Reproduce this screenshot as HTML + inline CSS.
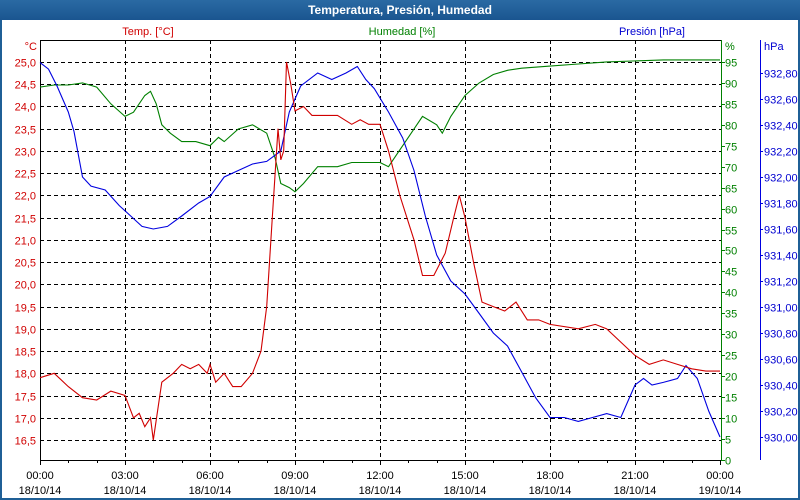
<!DOCTYPE html>
<html><head><meta charset="utf-8"><style>
body{margin:0;width:800px;height:500px;overflow:hidden;background:#fff;font-family:"Liberation Sans",sans-serif}
#frame{position:absolute;left:0;top:0;width:796px;height:496px;border:2px solid #1f5f96;background:#fff}
#title{position:absolute;left:0;top:0;width:800px;height:20px;background:linear-gradient(#2a6aa3,#1a5590);color:#fff;font-weight:bold;font-size:12px;text-align:center;line-height:20px}
</style></head><body>
<div id="frame"></div>
<div id="title">Temperatura, Presión, Humedad</div>
<svg id="chart" width="800" height="500" style="position:absolute;left:0;top:0"></svg>
<script>
const tempT=[0,0.5,1,1.5,2,2.5,3,3.3,3.5,3.7,3.9,4.0,4.3,4.7,5,5.3,5.6,5.9,6.0,6.2,6.5,6.8,7.1,7.5,7.8,8.0,8.2,8.4,8.5,8.6,8.7,8.85,9.0,9.3,9.6,10,10.5,11,11.3,11.6,12,12.3,12.7,13.2,13.5,13.9,14.3,14.6,14.8,15.0,15.3,15.6,16,16.4,16.8,17.2,17.6,18,19,19.6,20,21,21.5,22,22.5,23,23.5,24];
const tempV=[17.9,18.0,17.7,17.45,17.4,17.6,17.5,17.0,17.1,16.8,17.0,16.5,17.8,18.0,18.2,18.1,18.2,18.0,18.2,17.8,18.0,17.7,17.7,18.0,18.5,19.5,21.5,23.5,22.8,23.0,25.0,24.5,23.9,24.0,23.8,23.8,23.8,23.6,23.7,23.6,23.6,23.0,22.0,21.0,20.2,20.2,20.7,21.5,22.0,21.5,20.5,19.6,19.5,19.4,19.6,19.2,19.2,19.1,19.0,19.1,19.0,18.4,18.2,18.3,18.2,18.1,18.05,18.05];
const humT=[0,0.5,1,1.5,2,2.5,3,3.3,3.7,3.9,4.1,4.3,4.6,5,5.5,6,6.3,6.5,7,7.5,8,8.3,8.5,8.8,9,9.3,9.8,10.5,11,12,12.3,12.6,13,13.5,14,14.2,14.5,15,15.5,16,16.5,17,18,19,20,22,23,24];
const humV=[89,89.5,89.5,90,89,85,82,83,87,88,85,80,78,76,76,75,77,76,79,80,78,72,66,65,64,66,70,70,71,71,70,73,77,82,80,78,82,87,90,92,93,93.5,94,94.5,95,95.5,95.5,95.5];
const presT=[0,0.3,0.6,1.0,1.2,1.5,1.8,2.3,2.8,3.2,3.6,4,4.5,5,5.6,6,6.5,7,7.5,8,8.5,8.8,9.0,9.2,9.8,10.3,10.8,11.2,11.5,11.8,12.3,12.8,13.2,13.6,14,14.5,15,15.5,16,16.5,17,17.5,18,18.5,19,19.5,20,20.5,21,21.3,21.6,22,22.5,22.8,23.2,23.6,24];
const presV=[932.88,932.83,932.70,932.50,932.35,932.00,931.93,931.90,931.78,931.70,931.62,931.60,931.62,931.70,931.80,931.85,932.0,932.05,932.1,932.12,932.2,932.5,932.6,932.7,932.8,932.75,932.8,932.85,932.75,932.68,932.5,932.3,932.05,931.7,931.4,931.2,931.1,930.95,930.8,930.7,930.5,930.3,930.15,930.15,930.12,930.15,930.18,930.15,930.4,930.45,930.4,930.42,930.45,930.55,930.45,930.2,930.0];
const tempTicks=["16,5","17,0","17,5","18,0","18,5","19,0","19,5","20,0","20,5","21,0","21,5","22,0","22,5","23,0","23,5","24,0","24,5","25,0"];
const humTicks=[0,5,10,15,20,25,30,35,40,45,50,55,60,65,70,75,80,85,90,95];
const presTicks=["930,00","930,20","930,40","930,60","930,80","931,00","931,20","931,40","931,60","931,80","932,00","932,20","932,40","932,60","932,80"];
const timeLabels=["00:00","03:00","06:00","09:00","12:00","15:00","18:00","21:00","00:00"];
const dateLabels=["18/10/14","18/10/14","18/10/14","18/10/14","18/10/14","18/10/14","18/10/14","18/10/14","19/10/14"];

const L=40,R=721,T=40,B=460;
const x=t=>L+t*(680/24);
const yT=v=>62+(25-v)*44.47;
const yH=v=>460-v*4.19;
const yP=v=>437-(v-930)*130;
const svg=document.getElementById('chart');
const NS='http://www.w3.org/2000/svg';
function mk(tag,at,txt){const e=document.createElementNS(NS,tag);for(const k in at)e.setAttribute(k,at[k]);if(txt!=null)e.textContent=txt;svg.appendChild(e);return e;}
// grid
tempTicks.forEach((s,i)=>{const v=parseFloat(s.replace(',','.'));const yy=Math.round(yT(v))+0.5;
 const g=mk('line',{x1:L,x2:R,y1:yy,y2:yy,stroke:'#000','stroke-dasharray':'4,3'});
 
 
 const t=mk('text',{x:36,y:yy+4,'text-anchor':'end','font-size':11,fill:'#d00000'},s);
 
 });
for(let h=3;h<24;h+=3){const xx=Math.round(x(h))+0.5;
 const g=mk('line',{x1:xx,x2:xx,y1:T,y2:B,stroke:'#000','stroke-dasharray':'4,3'});
 
 }
for(let h=0;h<=24;h++){const xx=Math.round(x(h))+0.5;
 const k=mk('line',{x1:xx,x2:xx,y1:B,y2:B+(h%3==0?5:3),stroke:'#000'});
 
 }
timeLabels.forEach((s,i)=>{const xx=x(i*3);
 const a=mk('text',{x:xx,y:479,'text-anchor':'middle','font-size':11,fill:'#000'},s);
 
 
 const b=mk('text',{x:xx,y:494,'text-anchor':'middle','font-size':11,fill:'#000'},dateLabels[i]);
 
 });
// axes
let ax=mk('line',{x1:L+.5,x2:L+.5,y1:T,y2:B,stroke:'#000'});
ax=mk('line',{x1:L,x2:R,y1:T+.5,y2:T+.5,stroke:'#000'});
ax=mk('line',{x1:L,x2:R,y1:B+.5,y2:B+.5,stroke:'#000'});
ax=mk('line',{x1:R+.5,x2:R+.5,y1:T,y2:B,stroke:'#008000'});
ax=mk('line',{x1:760.5,x2:760.5,y1:T,y2:B,stroke:'#0000e0'});
humTicks.forEach(v=>{const yy=Math.round(yH(v))+0.5;
 const k=mk('line',{x1:R,x2:R+4,y1:yy,y2:yy,stroke:'#008000'});
 const t=mk('text',{x:725,y:yy+4,'font-size':11,fill:'#008000'},String(v));});
presTicks.forEach(s=>{const v=parseFloat(s.replace(',','.'));const yy=Math.round(yP(v))+0.5;
 const k=mk('line',{x1:760,x2:763,y1:yy,y2:yy,stroke:'#0000e0'});
 const t=mk('text',{x:764,y:yy+4,'font-size':11,fill:'#0000d0'},s);});
// titles
let tt=mk('text',{x:148,y:35,'text-anchor':'middle','font-size':11,fill:'#d00000'},'Temp. [°C]');
tt=mk('text',{x:402,y:35,'text-anchor':'middle','font-size':11,fill:'#008000'},'Humedad [%]');
tt=mk('text',{x:685,y:35,'text-anchor':'end','font-size':11,fill:'#0000d0'},'Presión [hPa]');
tt=mk('text',{x:37,y:50,'text-anchor':'end','font-size':11,fill:'#d00000'},'°C');
tt=mk('text',{x:725,y:50,'font-size':11,fill:'#008000'},'%');
tt=mk('text',{x:764,y:50,'font-size':11,fill:'#0000d0'},'hPa');
// series
function line(ts,vs,yf,c){return mk('polyline',{points:ts.map((t,i)=>x(t).toFixed(1)+','+yf(vs[i]).toFixed(1)).join(' '),fill:'none',stroke:c,'stroke-width':1.1});}
let p=line(humT,humV,yH,'#008000');
p=line(presT,presV,yP,'#0000e0');
p=line(tempT,tempV,yT,'#d00000');
</script>
</body></html>
